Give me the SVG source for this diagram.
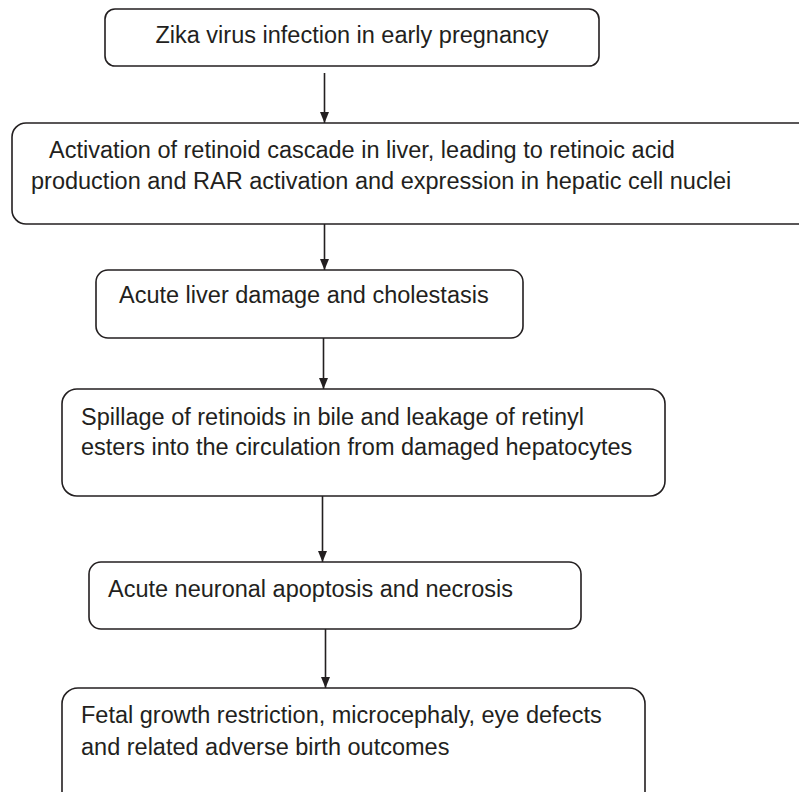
<svg xmlns="http://www.w3.org/2000/svg" width="799" height="792" viewBox="0 0 799 792">
<defs>
<marker id="ah" markerWidth="11" markerHeight="9" refX="11" refY="4.5" orient="auto" markerUnits="userSpaceOnUse" viewBox="0 0 11 9">
<path d="M0,0 L11,4.5 L0,9 Z" fill="#231f20"/>
</marker>
<style>
.box{fill:#fff;stroke:#231f20;stroke-width:1.6}
.t{font-family:"Liberation Sans",Arial,sans-serif;font-size:23.5px;fill:#231f20}
.c{stroke:#231f20;stroke-width:1.6;fill:none;marker-end:url(#ah)}
</style>
</defs>
<rect width="799" height="792" fill="#fff"/>
<g id="connectors">
<line class="c" x1="324.5" y1="73" x2="324.5" y2="123"/>
<line class="c" x1="324.5" y1="224" x2="324.5" y2="270"/>
<line class="c" x1="323.5" y1="338" x2="323.5" y2="389"/>
<line class="c" x1="322.5" y1="496" x2="322.5" y2="562"/>
<line class="c" x1="325.5" y1="629" x2="325.5" y2="688"/>
</g>
<g id="n1">
<rect class="box" x="105" y="9" width="494" height="57" rx="10"/>
<text class="t" x="352" y="43" text-anchor="middle">Zika virus infection in early pregnancy</text>
</g>
<g id="n2">
<rect class="box" x="12" y="123" width="800" height="101" rx="14"/>
<text class="t" x="49" y="158">Activation of retinoid cascade in liver, leading to retinoic acid</text>
<text class="t" x="31" y="189">production and RAR activation and expression in hepatic cell nuclei</text>
</g>
<g id="n3">
<rect class="box" x="96" y="270" width="427" height="68" rx="12"/>
<text class="t" x="119" y="303">Acute liver damage and cholestasis</text>
</g>
<g id="n4">
<rect class="box" x="62" y="389" width="603" height="107" rx="15"/>
<text class="t" x="81" y="425">Spillage of retinoids in bile and leakage of retinyl</text>
<text class="t" x="81" y="455">esters into the circulation from damaged hepatocytes</text>
</g>
<g id="n5">
<rect class="box" x="89" y="562" width="492" height="67" rx="12"/>
<text class="t" x="108" y="597">Acute neuronal apoptosis and necrosis</text>
</g>
<g id="n6">
<rect class="box" x="62" y="688" width="583" height="120" rx="16"/>
<text class="t" x="81" y="723">Fetal growth restriction, microcephaly, eye defects</text>
<text class="t" x="81" y="755">and related adverse birth outcomes</text>
</g>
</svg>
